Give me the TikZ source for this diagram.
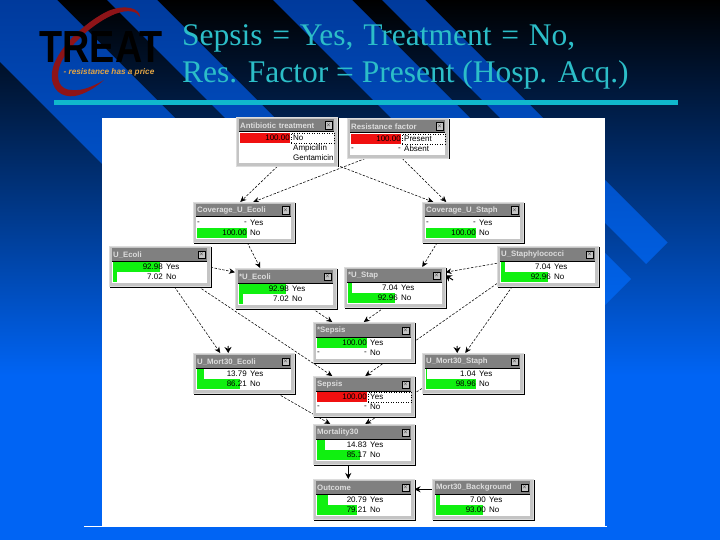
\documentclass[tikz,border=0pt]{standalone}
\usepackage{fontspec}
\setmainfont{Liberation Serif}
\setsansfont{Liberation Sans}
\usepackage{tikz}
\usetikzlibrary{arrows.meta,backgrounds}
\definecolor{teal}    {HTML}{2CBEC8}
\definecolor{barcyan} {HTML}{10B8CC}
\definecolor{swoosh}  {HTML}{8E1418}
\definecolor{tagline} {HTML}{E2A545}
\definecolor{slideend}{HTML}{0064F4}
\definecolor{bandtop} {HTML}{003A9C}
\definecolor{bandend} {HTML}{0064EC}
\definecolor{monface} {HTML}{C4C4C4}
\definecolor{montitle}{HTML}{808080}
\definecolor{montext} {HTML}{DDDDDD}
\definecolor{mgreen}  {HTML}{10F010}
\definecolor{mred}    {HTML}{F01010}
\tikzset{
  x=1pt, y=-1pt,
  % --- nodes
  mon/.style    = {rectangle, anchor=north west, fill=monface, draw=monface!60!white,
                   line width=0.5pt, minimum width=101pt, inner sep=0pt},
  mtitle/.style = {rectangle, anchor=north west, fill=montitle, text width=93pt,
                   minimum height=13pt, inner xsep=1pt, inner ysep=0pt, text=montext,
                   font=\fontsize{7.8}{8}\sffamily\bfseries, align=left},
  mbody/.style  = {rectangle, anchor=north west, fill=white, minimum width=95pt, inner sep=0pt},
  mclose/.style = {rectangle, anchor=center, fill=monface, draw=black, line width=0.5pt,
                   minimum size=7.5pt, inner sep=0pt, font=\tiny},
  mbar/.style   = {rectangle, anchor=west, minimum height=9.5pt, inner sep=0pt},
  mval/.style   = {anchor=east, inner sep=0pt, font=\fontsize{8}{9}\sffamily},
  mlab/.style   = {anchor=west, inner sep=0pt, font=\fontsize{8}{9}\sffamily},
  msel/.style   = {rectangle, anchor=west, draw=black, dotted, line width=0.5pt,
                   minimum width=43pt, minimum height=10pt, inner sep=0pt},
  heading/.style= {anchor=base west, inner sep=0pt, text=teal, font=\fontsize{31.5}{32}\selectfont},
  % --- edges
  e/.style      = {-{Stealth[length=6pt,width=5.5pt]}, draw=black, line width=0.55pt, dash pattern=on 2.5pt off 1.5pt},
  esolid/.style = {-{Stealth[length=6pt,width=6pt]}, draw=black, line width=0.8pt},
  estub/.style  = {-{Stealth[length=6pt,width=7pt]}, draw=black, line width=1pt},
}
% one monitor window: name, x, y, height, title
\newcommand{\monitor}[5]{%
  \fill[black] (#2+1,#3+1) rectangle (#2+102.5,#3+#4+1.5);
  \node[mon, minimum height=#4pt] (#1) at (#2,#3) {};
  \node[mtitle] (#1t) at ([xshift=3pt,yshift=-2pt]#1.north west) {#5};
  \node[mbody, minimum height={(#4-18)*1pt}] (#1b) at ([xshift=3pt,yshift=-15pt]#1.north west) {};
  \draw[line width=1pt] (#1b.north west) -- (#1b.north east);
  \node[mclose] (#1c) at ([xshift=-9pt,yshift=-8.5pt]#1.north east) {$\times$};
}
% one row: monitor, row, percent, colour, value, label
\newcommand{\monrow}[6]{%
  \node[mbar, fill=#4, minimum width=#3*0.5pt] (#1r#2) at ([xshift=4pt,yshift={-(21+10*#2)*1pt}]#1.north west) {};
  \node[mval] (#1v#2) at ([xshift=54pt,yshift={-(21+10*#2)*1pt}]#1.north west) {#5};
  \node[mlab] (#1l#2) at ([xshift=57pt,yshift={-(21+10*#2)*1pt}]#1.north west) {#6};
}
% dash at the left of an empty row
\newcommand{\monnil}[2]{%
  \node[mlab] (#1n#2) at ([xshift=4pt,yshift={-(21+10*#2)*1pt}]#1.north west) {-};
}
% dotted mark of the row that is set
\newcommand{\monsel}[2]{%
  \node[msel] (#1s#2) at ([xshift=55pt,yshift={-(21+10*#2)*1pt}]#1.north west) {};
}
\begin{document}
\begin{tikzpicture}
  \useasboundingbox (0,0) rectangle (720,540);
  % --- slide
  \begin{pgfonlayer}{background}
    \fill[slideend] (0,0) rectangle (720,540);
    \shade[top color=black, bottom color=slideend] (0,0) rectangle (720,375);
    \begin{scope}
      \clip (-62,0) -- (57,0) -- (483.5,426.5) -- (424,486) -- cycle
            (107,0) -- (157,0) -- (533.5,376.5) -- (508.5,401.5) -- cycle
            (273,0) -- (352,0) -- (631,279) -- (591.5,318.5) -- cycle
            (382,0) -- (425,0) -- (667.5,242.5) -- (646,264) -- cycle;
      \shade[top color=bandtop, bottom color=bandend] (0,0) rectangle (720,310);
    \end{scope}
    \fill[white] (84,526) rectangle (607,527);
    \fill[white] (102,118) rectangle (605,527);
  \end{pgfonlayer}
  \fill[barcyan] (54,100) rectangle (678,105);
  % --- logo
  \fill[swoosh] (140,17) .. controls (140,8) and (125,4) .. (108,11)
    .. controls (85,22) and (55,50) .. (52,72) .. controls (50,90) and (62,98) .. (75,96)
    .. controls (85,94) and (95,88) .. (104,80) .. controls (92,87) and (82,91) .. (72,90)
    .. controls (60,90) and (55,80) .. (60,65) .. controls (68,45) and (95,22) .. (115,14)
    .. controls (128,9) and (137,11) .. (140,17) -- cycle;
  \node[anchor=base, inner sep=0pt, font=\fontsize{45}{45}\sffamily\bfseries, text=black] (logo) at (101,63)
    {\scalebox{0.84}[1]{TREAT}};
  \node[anchor=base, inner sep=0pt, font=\fontsize{8.2}{8.5}\sffamily\bfseries\itshape, text=tagline] (slogan) at (109,75)
    {- resistance has a price};
  \node[heading] (head1) at (182,46) {\spaceskip=9.7pt Sepsis = Yes, Treatment = No,};
  \node[heading] (head2) at (182,83) {Res. Factor = Present (Hosp. Acq.)};
  % --- monitors
  \monitor{abx}{236}{117}{49}{Antibiotic treatment}
  \monrow{abx}{0}{100}{mred}{100.00}{No}
  \monsel{abx}{0}
  \monrow{abx}{1}{0}{white}{}{Ampicillin}
  \monrow{abx}{2}{0}{white}{}{Gentamicin}
  \monitor{res}{347}{118}{40}{Resistance factor}
  \monrow{res}{0}{100}{mred}{100.00}{Present}
  \monsel{res}{0}
  \monrow{res}{1}{0}{white}{-}{Absent}
  \monnil{res}{1}
  \monitor{covE}{193}{202}{40}{Coverage\_U\_Ecoli}
  \monrow{covE}{0}{0}{white}{-}{Yes}
  \monnil{covE}{0}
  \monrow{covE}{1}{100}{mgreen}{100.00}{No}
  \monitor{covS}{422}{202}{40}{Coverage\_U\_Staph}
  \monrow{covS}{0}{0}{white}{-}{Yes}
  \monnil{covS}{0}
  \monrow{covS}{1}{100}{mgreen}{100.00}{No}
  \monitor{uE}{109}{246}{40}{U\_Ecoli}
  \monrow{uE}{0}{92.98}{mgreen}{92.98}{Yes}
  \monrow{uE}{1}{7.02}{mgreen}{7.02}{No}
  \monitor{uEs}{235}{268}{40}{*U\_Ecoli}
  \monrow{uEs}{0}{92.98}{mgreen}{92.98}{Yes}
  \monrow{uEs}{1}{7.02}{mgreen}{7.02}{No}
  \monitor{uSs}{344}{267}{40}{*U\_Stap}
  \monrow{uSs}{0}{7.04}{mgreen}{7.04}{Yes}
  \monrow{uSs}{1}{92.96}{mgreen}{92.96}{No}
  \monitor{uS}{497}{246}{40}{U\_Staphylococci}
  \monrow{uS}{0}{7.04}{mgreen}{7.04}{Yes}
  \monrow{uS}{1}{92.96}{mgreen}{92.96}{No}
  \monitor{sepS}{313}{322}{40}{*Sepsis}
  \monrow{sepS}{0}{100}{mgreen}{100.00}{Yes}
  \monrow{sepS}{1}{0}{white}{-}{No}
  \monnil{sepS}{1}
  \monitor{mortE}{193}{353}{40}{U\_Mort30\_Ecoli}
  \monrow{mortE}{0}{13.79}{mgreen}{13.79}{Yes}
  \monrow{mortE}{1}{86.21}{mgreen}{86.21}{No}
  \monitor{mortS}{422}{353}{40}{U\_Mort30\_Staph}
  \monrow{mortS}{0}{1.04}{mgreen}{1.04}{Yes}
  \monrow{mortS}{1}{98.96}{mgreen}{98.96}{No}
  \monitor{sep}{313}{376}{40}{Sepsis}
  \monrow{sep}{0}{100}{mred}{100.00}{Yes}
  \monsel{sep}{0}
  \monrow{sep}{1}{0}{white}{-}{No}
  \monnil{sep}{1}
  \monitor{mort}{313}{424}{40}{Mortality30}
  \monrow{mort}{0}{14.83}{mgreen}{14.83}{Yes}
  \monrow{mort}{1}{85.17}{mgreen}{85.17}{No}
  \monitor{outc}{313}{479}{40}{Outcome}
  \monrow{outc}{0}{20.79}{mgreen}{20.79}{Yes}
  \monrow{outc}{1}{79.21}{mgreen}{79.21}{No}
  \monitor{bkg}{432}{479}{40}{Mort30\_Background}
  \monrow{bkg}{0}{7.00}{mgreen}{7.00}{Yes}
  \monrow{bkg}{1}{93.00}{mgreen}{93.00}{No}
  % --- connectors
  \coordinate (stubE) at (228,346);
  \coordinate (stubS) at (457,346);
  \coordinate (stubU) at (453,280);
  \begin{pgfonlayer}{background}
    \draw[e] ([xshift=-9.5pt]abx.south) -- ([xshift=-3.5pt]covE.north);
    \draw[e] ([xshift=53.5pt]abx.south) -- ([xshift=-39.5pt]covS.north);
    \draw[e] ([xshift=-32.5pt]res.south) -- ([xshift=9.5pt]covE.north);
    \draw[e] ([xshift=4.5pt]res.south) -- ([xshift=-26.5pt]covS.north);
    \draw[e] ([xshift=3.5pt]covE.south) -- ([xshift=-25.5pt]uEs.north);
    \draw[e] ([xshift=-35.5pt]covS.south) -- ([xshift=27.5pt]uSs.north);
    \draw[e] ([yshift=-1pt]uE.east) -- ([yshift=16pt]uEs.west);
    \draw[e] ([yshift=3pt]uS.west) -- ([yshift=15pt]uSs.east);
    \draw[e] ([xshift=14.5pt]uE.south) -- ([xshift=-23.5pt]mortE.north);
    \draw[e] ([xshift=38.5pt]uE.south) -- ([xshift=-31.5pt]sep.north);
    \draw[e] ([xshift=26.5pt]uEs.south) -- ([xshift=-31.5pt]sepS.north);
    \draw[e] ([xshift=-10.5pt]uSs.south) -- (sepS.north);
    \draw[e] ([xshift=-35.5pt]uS.south) -- ([xshift=-7.5pt]mortS.north);
    \draw[e] ([yshift=3pt]uS.south west) -- ([xshift=1.5pt]sep.north);
    \draw[e] ([xshift=33.5pt]mortE.south) -- ([xshift=-33.5pt]mort.north);
    \draw[e] ([yshift=5pt]mortS.south west) -- ([xshift=1.5pt]mort.north);
    \draw[esolid] ([xshift=-15.5pt]mort.south) -- ([xshift=-15.5pt]outc.north);
    \draw[esolid] ([yshift=10pt]bkg.west) -- ([yshift=10pt]outc.east);
    \draw[estub] (stubE) -- ([xshift=-15.5pt]mortE.north);
    \draw[estub] (stubS) -- ([xshift=-15.5pt]mortS.north);
    \draw[estub] (stubU) -- ([yshift=12pt]uSs.east);
  \end{pgfonlayer}
\end{tikzpicture}
\end{document}
